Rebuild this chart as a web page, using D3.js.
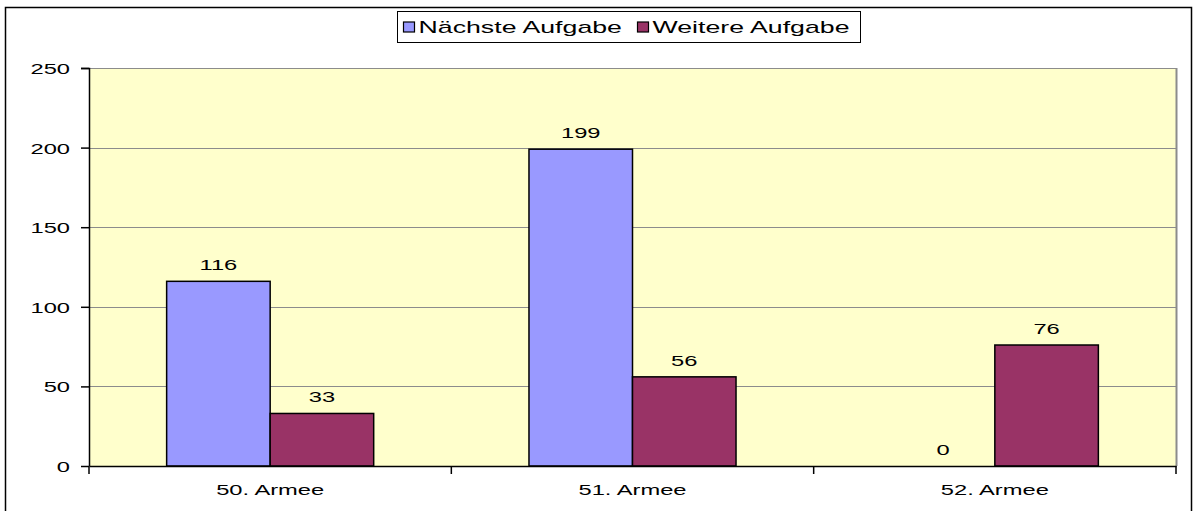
<!DOCTYPE html>
<html>
<head>
<meta charset="utf-8">
<script src="https://cdn.jsdelivr.net/npm/d3@7"></script>
<style>
  body { margin: 0; background: #fff; }
  svg text { font-family: "Liberation Sans", Arial, sans-serif; }
</style>
</head>
<body>
<svg id="chart" width="1196" height="511"></svg>
<script>
// data
const categories = ["50. Armee", "51. Armee", "52. Armee"];
const seriesNames = ["Nächste Aufgabe", "Weitere Aufgabe"];
const naechste = [116, 199, 0];
const weitere = [33, 56, 76];
const yTicks = [0, 50, 100, 150, 200, 250];
const colors = ["#9999FF", "#993366"];

const width = 1196, height = 511;
const margin = { top: 68, right: 20, bottom: 45, left: 89 };
const plotW = width - margin.left - margin.right;   // right edge ~1176
const plotH = 466 - margin.top;
const SX = 1.58; // the original text is stretched horizontally

const svg = d3.select("#chart");

// outer chart frame (bottom runs off the picture)
svg.append("rect")
    .attr("x", 5.5).attr("y", 7.5)
    .attr("width", 1186).attr("height", 520)
    .attr("fill", "#fff")
    .attr("stroke", "#000")
    .attr("stroke-width", 1.5);

const g = svg.append("g").attr("transform", `translate(${margin.left},${margin.top})`);

const x0 = d3.scaleBand().domain(categories).range([0, plotW]).paddingInner(0).paddingOuter(0);
// gap width 150% => two bars take 2/3.5 of the group
const barW = x0.bandwidth() / 3.5;
const y = d3.scaleLinear().domain([0, 250]).range([plotH, 0]);

// plot area
g.append("rect")
    .attr("width", plotW).attr("height", plotH)
    .attr("fill", "#FFFFCC");

// gridlines
g.append("g")
    .selectAll("line")
    .data(yTicks.filter(d => d > 0))
    .join("line")
    .attr("x1", 0).attr("x2", plotW)
    .attr("y1", d => Math.round(y(d)) + 0.5).attr("y2", d => Math.round(y(d)) + 0.5)
    .attr("stroke", "#8c8c8c")
    .attr("stroke-width", 1);

// right side border of plot area (grey)
g.append("line")
    .attr("x1", plotW + 0.5).attr("x2", plotW + 0.5)
    .attr("y1", 0).attr("y2", plotH)
    .attr("stroke", "#8c8c8c").attr("stroke-width", 2);

const series = [naechste, weitere];

// bars
categories.forEach((c, i) => {
    series.forEach((vals, s) => {
        const v = vals[i];
        const bx = x0(c) + barW * 0.75 + s * barW;
        if (v > 0) {
            g.append("rect")
                .attr("x", bx).attr("y", y(v))
                .attr("width", barW).attr("height", y(0) - y(v))
                .attr("fill", colors[s])
                .attr("stroke", "#000")
                .attr("stroke-width", 1.5);
        }
        g.append("text")
            .attr("transform", `translate(${bx + barW / 2},${y(v) - 11}) scale(${SX},1)`)
            .attr("text-anchor", "middle")
            .attr("font-size", 15)
            .attr("fill", "#000")
            .text(v);
    });
});

// y axis
const yAxis = g.append("g")
    .call(d3.axisLeft(y).tickValues(yTicks).tickSize(8).tickPadding(10));
yAxis.select(".domain").attr("stroke", "#000").attr("stroke-width", 1.5)
    .attr("d", `M-8,0.5H0.5V${plotH}`);
yAxis.selectAll(".tick line").attr("stroke", "#000").attr("stroke-width", 1.5);
yAxis.selectAll(".tick text")
    .attr("x", 0)
    .attr("dy", "0.36em")
    .attr("transform", `translate(-19,0) scale(${SX},1)`)
    .attr("font-size", 15)
    .attr("fill", "#000")
    .attr("font-family", "Liberation Sans, Arial, sans-serif");

// x axis
const xAxis = g.append("g")
    .attr("transform", `translate(0,${plotH})`)
    .call(d3.axisBottom(x0).tickSize(0));
xAxis.select(".domain").attr("stroke", "#000").attr("stroke-width", 1.5);
xAxis.selectAll(".tick text")
    .attr("y", 0)
    .attr("dy", 0)
    .attr("transform", `translate(0,29) scale(${SX},1)`)
    .attr("font-size", 15)
    .attr("fill", "#000")
    .attr("font-family", "Liberation Sans, Arial, sans-serif");
// category separator ticks
g.append("g")
    .selectAll("line")
    .data(categories.map(c => x0(c)).concat([plotW]))
    .join("line")
    .attr("x1", d => d).attr("x2", d => d)
    .attr("y1", plotH).attr("y2", plotH + 8)
    .attr("stroke", "#000").attr("stroke-width", 1.5);

// legend
const legend = svg.append("g").attr("transform", "translate(397.5,11.5)");
legend.append("rect")
    .attr("width", 463).attr("height", 31)
    .attr("fill", "#fff")
    .attr("stroke", "#000")
    .attr("stroke-width", 1);
const legendX = [6, 240];
seriesNames.forEach((name, s) => {
    legend.append("rect")
        .attr("x", legendX[s]).attr("y", 10.5)
        .attr("width", 11).attr("height", 10)
        .attr("fill", colors[s])
        .attr("stroke", "#000").attr("stroke-width", 1.2);
    legend.append("text")
        .attr("transform", `translate(${legendX[s] + 15},21.5) scale(1.67,1)`)
        .attr("font-size", 16)
        .attr("fill", "#000")
        .text(name);
});
</script>
</body>
</html>
